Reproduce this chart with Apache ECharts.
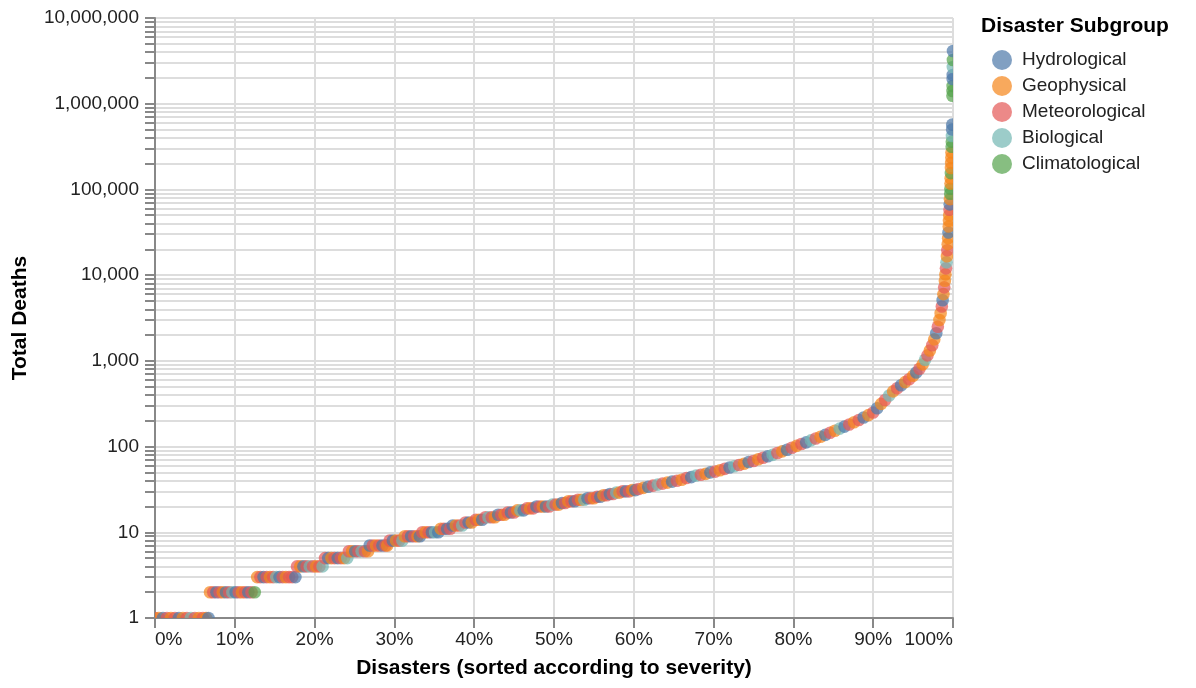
<!DOCTYPE html>
<html><head><meta charset="utf-8">
<script src="https://cdn.jsdelivr.net/npm/echarts@6/dist/echarts.min.js"></script>
<style>html,body{margin:0;padding:0;background:#fff}#chart{width:1196px;height:688px}</style>
</head><body><div id="chart"></div>
<script>
const subgroups = ['Hydrological', 'Geophysical', 'Meteorological', 'Biological', 'Climatological'];
const subgroupKeys = ['H', 'G', 'M', 'B', 'C'];
const subgroupColors = ['#4c78a8', '#f58518', '#e45756', '#72b7b2', '#54a24b'];

// x: rank of the disaster in percent (sorted by severity)
const pctRank = [
  0.0,0.5,1.0,1.5,2.0,2.5,3.0,3.5,4.0,4.5,
  5.0,5.5,6.0,6.4,6.7,6.9,7.3,7.7,8.1,8.5,
  8.9,9.3,9.7,10.1,10.5,10.9,11.3,11.7,12.1,12.5,
  12.8,13.2,13.6,14.0,14.4,14.8,15.2,15.6,16.0,16.4,
  16.8,17.2,17.6,17.8,18.2,18.6,19.0,19.4,19.8,20.2,
  20.6,21.0,21.3,21.7,22.1,22.5,22.9,23.3,23.7,24.1,
  24.3,24.7,25.1,25.5,25.9,26.3,26.7,26.9,27.3,27.7,
  28.1,28.5,28.9,29.1,29.4,29.8,30.2,30.6,31.0,31.3,
  31.7,32.1,32.5,32.9,33.2,33.5,33.9,34.3,34.7,35.1,
  35.5,35.8,36.2,36.6,37.0,37.3,37.7,38.1,38.5,38.9,
  39.3,39.7,40.2,40.6,41.0,41.4,41.8,42.2,42.6,43.0,
  43.4,43.8,44.2,44.6,45.0,45.4,45.8,46.2,46.6,47.0,
  47.4,47.8,48.2,48.6,49.0,49.4,49.8,50.2,50.6,51.0,
  51.4,51.8,52.2,52.6,53.0,53.4,53.8,54.2,54.6,55.0,
  55.4,55.8,56.2,56.6,57.0,57.4,57.8,58.2,58.6,59.0,
  59.4,59.8,60.2,60.6,61.2,61.8,62.4,63.0,63.6,64.2,
  64.8,65.4,66.0,66.6,67.2,67.8,68.4,69.0,69.6,70.2,
  70.8,71.4,72.0,72.6,73.2,73.8,74.4,75.0,75.6,76.2,
  76.8,77.4,78.0,78.6,79.2,79.8,80.4,81.0,81.6,82.2,
  82.8,83.4,84.0,84.6,85.2,85.8,86.4,87.0,87.6,88.2,
  88.8,89.4,90.0,90.5,91.0,91.5,92.0,92.5,93.0,93.5,
  94.0,94.5,95.0,95.4,95.8,96.2,96.5,96.8,97.1,97.4,
  97.65,97.9,98.1,98.3,98.45,98.6,98.7,98.8,98.9,98.98,
  99.05,99.12,99.18,99.24,99.29,99.34,99.39,99.43,99.47,99.5,
  99.53,99.56,99.59,99.62,99.65,99.67,99.69,99.71,99.73,99.75,
  99.77,99.79,99.81,99.83,99.85,99.87,99.89,99.9,99.93,99.94,
  99.95,99.96,99.97,99.98,99.99,100
];

// y: total deaths of each disaster
const totalDeaths = [
  1,1,1,1,1,1,1,1,1,1,
  1,1,1,1,1,2,2,2,2,2,
  2,2,2,2,2,2,2,2,2,2,
  3,3,3,3,3,3,3,3,3,3,
  3,3,3,4,4,4,4,4,4,4,
  4,4,5,5,5,5,5,5,5,5,
  6,6,6,6,6,6,6,7,7,7,
  7,7,7,7,8,8,8,8,8,9,
  9,9,9,9,9,10,10,10,10,10,
  10,11,11,11,11,12,12,12,12,13,
  13,13,14,14,14,15,15,15,15,16,
  16,16,17,17,17,18,18,18,19,19,
  19,20,20,20,20,20,21,21,21,22,
  22,23,23,23,24,24,24,25,25,25,
  26,26,27,27,28,28,29,29,30,30,
  30,31,31,32,33,34,35,36,37,38,
  39,40,41,43,44,46,47,48,50,51,
  53,55,57,59,61,63,66,68,71,74,
  77,80,84,88,92,97,102,107,112,118,
  124,130,137,145,153,162,171,181,192,204,
  218,233,250,280,315,350,395,440,480,520,
  565,610,670,730,810,910,1030,1160,1320,1520,
  1780,2100,2500,3000,3600,4300,5100,6000,7200,8600,
  10200,12000,14100,16600,19500,23000,27000,31500,37000,43000,
  50000,58000,67000,77000,89000,102000,117000,135000,155000,178000,
  204000,235000,270000,315000,360000,420000,500000,570000,1240000,1410000,
  1610000,1940000,2160000,2680000,3240000,4120000
];

// subgroup of each disaster: H=Hydrological G=Geophysical M=Meteorological B=Biological C=Climatological
const subgroupCodes = [
  'MGHMGMHGMB','MGMGHGMHMG','HMBHMGMHMC','GMHMGMBHMG','MMHMGHMBMG',
  'MBMHGMHMGB','MGHMBMGHMG','MHMGMHGMBG','MHMGHMGMHB','HGMHMHGMBM',
  'HGMGHMBMGH','MGMHMGBHMG','MHMGHMBMGH','MGMHMGBHMG','MHGMHMBGMH',
  'MGHMGHMBMG','HMGMHBMGHM','GMHBMGHMGM','HBMGHMGMHB','MGHMGBHMGM',
  'HGMHGMBGMH','GMGHMGBMGM','GHMGGMHGMG','GMBGMGGHGG','GMHGCCGGCG',
  'GGGCCBHHCC','CHHBCH'
].join('').split('');

const xTickValues = [0, 10, 20, 30, 40, 50, 60, 70, 80, 90, 100];
const yLabelValues = [1, 10, 100, 1000, 10000, 100000, 1000000, 10000000];
const yMinorMultipliers = [1, 2, 3, 4, 5, 6, 7, 8, 9];
const yTickValues = [];
yLabelValues.forEach((d, i) => {
  if (i < yLabelValues.length - 1) yMinorMultipliers.forEach(m => yTickValues.push(d * m));
  else yTickValues.push(d);
});

const FONT = '"Liberation Sans", Arial, Helvetica, sans-serif';
const R = 6.3;

const series = subgroups.map((name, gi) => ({
  name: name,
  type: 'custom',
  coordinateSystem: 'cartesian2d',
  clip: true,
  itemStyle: { color: subgroupColors[gi], opacity: 0.7 },
  encode: { x: 0, y: 1 },
  data: pctRank.map((p, i) => [p, totalDeaths[i], i]).filter((row, i) => subgroupCodes[i] === subgroupKeys[gi]),
  renderItem: (params, api) => {
    const pt = api.coord([api.value(0), api.value(1)]);
    return {
      type: 'circle',
      z2: api.value(2),
      shape: { cx: pt[0], cy: pt[1], r: R },
      style: { fill: subgroupColors[gi], opacity: 0.7 }
    };
  }
}));

const chart = echarts.init(document.getElementById('chart'), null, { renderer: 'canvas' });
chart.setOption({
  animation: false,
  backgroundColor: '#fff',
  textStyle: { fontFamily: FONT },
  title: {
    text: 'Disaster Subgroup',
    left: 981, top: 16, padding: 0,
    textStyle: { fontFamily: FONT, fontSize: 21, fontWeight: 'bold', color: '#000' }
  },
  legend: {
    orient: 'vertical',
    left: 992, top: 50,
    padding: 0,
    itemWidth: 20, itemHeight: 20, itemGap: 6,
    icon: 'circle',
    itemStyle: { opacity: 0.7 },
    textStyle: { fontFamily: FONT, fontSize: 19, color: '#222', padding: [0, 0, 0, 5] },
    data: subgroups
  },
  grid: { left: 155, top: 18, right: 243, bottom: 70, containLabel: false },
  xAxis: {
    type: 'value', min: 0, max: 100, interval: 10,
    name: 'Disasters (sorted according to severity)',
    nameLocation: 'middle', nameGap: 40,
    nameTextStyle: { fontFamily: FONT, fontSize: 21, fontWeight: 'bold', color: '#000' },
    axisLine: { show: true, lineStyle: { color: '#888', width: 2 } },
    axisTick: { show: true, length: 10, lineStyle: { color: '#888', width: 2 } },
    axisLabel: {
      fontFamily: FONT, fontSize: 19, color: '#222', margin: 12,
      alignMinLabel: 'left', alignMaxLabel: 'right',
      customValues: xTickValues,
      formatter: v => v + '%'
    },
    splitLine: { show: true, lineStyle: { color: '#ddd', width: 2 } }
  },
  yAxis: {
    type: 'log', logBase: 10, min: 1, max: 10000000,
    name: 'Total Deaths',
    nameLocation: 'middle', nameGap: 124,
    nameTextStyle: { fontFamily: FONT, fontSize: 21, fontWeight: 'bold', color: '#000' },
    axisLine: { show: true, lineStyle: { color: '#888', width: 2 } },
    axisTick: { show: true, length: 10, customValues: yTickValues, lineStyle: { color: '#888', width: 2 } },
    axisLabel: {
      fontFamily: FONT, fontSize: 19, color: '#222', margin: 16,
      customValues: yLabelValues,
      formatter: v => Number(v).toLocaleString('en-US')
    },
    splitLine: { show: true, lineStyle: { color: '#ddd', width: 2 } }
  },
  series: series
});
</script>
</body></html>
